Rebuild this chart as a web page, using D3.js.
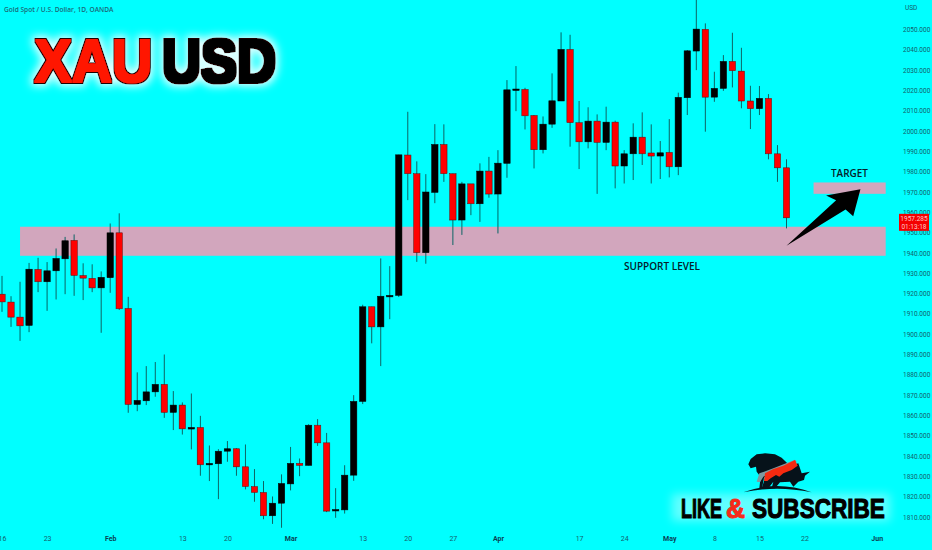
<!DOCTYPE html>
<html><head><meta charset="utf-8">
<script src="https://cdn.jsdelivr.net/npm/d3@7/dist/d3.min.js"></script>
<style>html,body{margin:0;padding:0;background:#00ffff;overflow:hidden}svg{display:block}</style>
</head><body><svg id="c" width="932" height="550"></svg>
<script>
const opens=[1919.7,1915.8,1908.4,1904.3,1931.9,1925.8,1931.2,1937.1,1946.2,1928.9,1927.5,1922.8,1927.8,1949.9,1912.7,1865.4,1867.2,1871.6,1875.3,1861.5,1865.1,1853.3,1854.1,1835.7,1836.2,1842.4,1843.6,1834.7,1825.0,1822.1,1810.6,1816.8,1826.3,1836.4,1835.4,1855.2,1846.5,1813.0,1813.5,1830.6,1866.9,1913.5,1903.6,1918.4,1919.1,1988.2,1979.0,1940.1,1969.8,1993.4,1979.0,1956.2,1974.0,1964.2,1980.3,1969.0,1984.1,2020.2,2020.5,2007.7,1990.8,2003.4,2014.8,2040.2,2004.1,1994.7,2004.9,1994.4,2004.4,1982.8,1988.8,1997.0,1989.2,1987.7,1989.5,1982.4,2016.4,2039.4,2050.1,2016.7,2021.0,2034.3,2029.5,2014.8,2011.0,2016.1,1988.8,1981.9];
const highs=[1928.7,1918.7,1925.8,1935.1,1937.6,1935.5,1942.2,1947.9,1949.1,1934.9,1934.4,1930.9,1954.5,1959.5,1918.4,1881.2,1884.3,1886.3,1890.0,1872.0,1866.4,1870.8,1859.8,1845.2,1843.4,1847.4,1843.9,1845.7,1833.6,1827.7,1820.1,1831.0,1844.5,1838.8,1855.7,1858.2,1851.4,1824.2,1835.5,1870.0,1914.5,1913.5,1937.3,1933.5,1988.3,2009.5,1985.1,1978.8,2003.4,2003.3,1979.0,1975.0,1974.0,1984.1,1987.3,1990.6,2025.1,2032.0,2021.3,2007.9,2007.2,2028.4,2048.6,2047.4,2014.8,2011.7,2008.2,2012.0,2005.1,1990.6,2003.8,2009.2,2003.3,1995.1,2005.9,2018.9,2039.9,2067.0,2053.0,2029.2,2037.4,2048.4,2041.0,2022.3,2022.2,2018.2,1993.1,1986.1];
const lows=[1911.0,1903.6,1896.7,1901.0,1920.7,1911.5,1917.1,1919.7,1918.9,1916.8,1920.7,1900.7,1920.4,1911.9,1861.3,1862.1,1865.1,1869.2,1858.8,1852.8,1850.6,1843.3,1830.3,1827.7,1818.8,1837.2,1830.3,1823.6,1817.5,1808.9,1806.6,1804.7,1823.1,1830.1,1835.4,1845.0,1812.4,1809.6,1811.7,1827.8,1865.6,1895.5,1884.3,1907.4,1918.3,1966.0,1935.6,1934.7,1964.5,1975.0,1943.9,1948.9,1958.6,1955.3,1967.2,1949.6,1977.0,2009.8,2000.8,1981.6,1989.0,2001.6,2014.8,1992.3,1981.3,1991.5,1969.1,1990.6,1971.8,1974.2,1975.9,1983.3,1974.2,1976.4,1977.2,1978.3,2007.9,2030.0,1999.7,2014.4,2019.8,2021.5,2011.2,2001.0,2007.9,1986.1,1975.0,1952.1];
const closes=[1915.9,1908.4,1904.1,1932.0,1925.8,1931.2,1937.3,1946.0,1928.9,1927.6,1922.8,1928.0,1949.9,1912.5,1865.4,1867.4,1871.6,1875.3,1861.5,1865.1,1853.4,1854.1,1835.7,1836.4,1842.4,1843.6,1834.7,1825.0,1822.1,1810.6,1816.8,1826.5,1836.4,1835.4,1855.2,1846.5,1812.9,1813.7,1830.6,1866.9,1913.5,1903.6,1918.7,1919.1,1988.3,1979.0,1940.1,1970.0,1993.4,1979.0,1956.2,1974.0,1964.2,1980.3,1969.0,1984.2,2020.3,2020.7,2007.5,1990.8,2003.4,2014.9,2040.2,2004.1,1994.7,2004.9,1994.4,2004.4,1982.8,1988.8,1997.0,1988.8,1987.7,1989.3,1982.4,2016.6,2039.5,2050.2,2016.7,2021.0,2034.3,2029.7,2014.8,2011.0,2016.1,1988.8,1981.9,1957.285];
const dateTickIndex=[0,5,12,20,25,32,40,45,50,55,64,69,74,79,84,89,97];
const dateTickLabels=["16","23","Feb","13","20","Mar","13","20","27","Apr","17","24","May","8","15","22","Jun"];
const monthLabels=["Feb","Mar","Apr","May","Jun"];
const priceTicks=d3.range(1810,2051,10);
const zones=[{i0:2,i1:98,top:1952.9,bottom:1938.6},{i0:90,i1:98,top:1974.7,bottom:1969.1}];
const arrowTail={i:87,p:1943.6}, arrowTip={i:95.2,p:1971.3};
const lastPrice=1957.285, countdown="01:13:18";

const svg=d3.select("#c");
const x=d3.scaleLinear().domain([0,87]).range([2,786.5]);
const y=d3.scaleLinear().domain([1810,2050]).range([517,29.5]);
const defs=svg.append("defs");
const f=defs.append("filter").attr("id","glow").attr("x","-20%").attr("y","-40%").attr("width","140%").attr("height","180%");
f.append("feGaussianBlur").attr("stdDeviation",5);
const tg=defs.append("filter").attr("id","textglow").attr("x","-15%").attr("y","-30%").attr("width","130%").attr("height","160%");
tg.append("feMorphology").attr("in","SourceAlpha").attr("operator","dilate").attr("radius",2).attr("result","d");
tg.append("feGaussianBlur").attr("in","d").attr("stdDeviation",4).attr("result","b");
tg.append("feFlood").attr("flood-color","#e8ffff").attr("result","c");
tg.append("feComposite").attr("in","c").attr("in2","b").attr("operator","in").attr("result","g");
const tm=tg.append("feMerge");tm.append("feMergeNode").attr("in","g");tm.append("feMergeNode").attr("in","SourceGraphic");
// fattens a word and lays a thin dark outline round it
function heavy(id,r,col){
  const h=defs.append("filter").attr("id",id).attr("x","-10%").attr("y","-20%").attr("width","120%").attr("height","140%");
  h.append("feMorphology").attr("in","SourceAlpha").attr("operator","dilate").attr("radius",r+1).attr("result","o");
  h.append("feFlood").attr("flood-color","#1a0505").attr("result","k");
  h.append("feComposite").attr("in","k").attr("in2","o").attr("operator","in").attr("result","outline");
  h.append("feMorphology").attr("in","SourceGraphic").attr("operator","dilate").attr("radius",r).attr("result","fat");
  const m=h.append("feMerge");m.append("feMergeNode").attr("in","outline");m.append("feMergeNode").attr("in","fat");
}
heavy("heavy",1.1);
const blur2=defs.append("filter").attr("id","soft").attr("x","-5%").attr("y","-5%").attr("width","110%").attr("height","110%");
blur2.append("feGaussianBlur").attr("stdDeviation",0.35);

svg.append("rect").attr("width",932).attr("height",550).attr("fill","#00ffff");
svg.append("g").selectAll("rect").data(zones).join("rect")
  .attr("x",d=>x(d.i0)).attr("width",d=>x(d.i1)-x(d.i0))
  .attr("y",d=>y(d.top)).attr("height",d=>y(d.bottom)-y(d.top)).attr("fill","#d2a6bd");

const candles=d3.range(opens.length).map(i=>({i,o:opens[i],h:highs[i],l:lows[i],c:closes[i]}));
const g=svg.append("g").attr("filter","url(#soft)");
g.selectAll("line").data(candles).join("line")
  .attr("x1",d=>x(d.i)).attr("x2",d=>x(d.i)).attr("y1",d=>y(d.h)).attr("y2",d=>y(d.l))
  .attr("stroke","#0c6464").attr("stroke-width",1);
g.selectAll("rect").data(candles).join("rect")
  .attr("x",d=>x(d.i)-3.2).attr("width",6.4)
  .attr("y",d=>y(Math.max(d.o,d.c))).attr("height",d=>Math.max(1.5,Math.abs(y(d.o)-y(d.c))))
  .attr("fill",d=>d.c>=d.o?"#000":"#ff0000").attr("stroke",d=>d.c>=d.o?"#000":"#5a1010").attr("stroke-width",0.5);

// axes
const axisCol="#14606c";
const ya=svg.append("g").attr("transform","translate(903,0)").call(d3.axisRight(y).tickValues(priceTicks).tickSize(0).tickPadding(0).tickFormat(d3.format(".3f")));
ya.select(".domain").remove();
ya.selectAll("text").attr("fill",axisCol).attr("font-family","Roboto, sans-serif").attr("font-size",6.5);
const xa=svg.append("g").attr("transform","translate(0,536)").call(d3.axisBottom(x).tickValues(dateTickIndex).tickSize(0).tickPadding(0).tickFormat((d,i)=>dateTickLabels[i]));
xa.select(".domain").remove();
xa.selectAll("text").attr("fill",(d,i)=>monthLabels.includes(dateTickLabels[i])?"#0b3f55":axisCol)
  .attr("font-weight",(d,i)=>monthLabels.includes(dateTickLabels[i])?"700":"400")
  .attr("font-family","Roboto, sans-serif").attr("font-size",7).attr("dy","0.7em");

svg.append("text").attr("x",905).attr("y",9.5).text("USD").attr("fill",axisCol).attr("font-family","Roboto, sans-serif").attr("font-size",6.5);
svg.append("text").attr("x",4).attr("y",12).text("Gold Spot / U.S. Dollar, 1D, OANDA").attr("fill","#1b6a78").attr("font-family","'Open Sans', sans-serif").attr("font-weight",600).attr("font-size",6.6);

// last price tag
svg.append("rect").attr("x",899).attr("y",y(lastPrice)-4).attr("width",30).attr("height",17).attr("fill","#f40000");
svg.append("text").attr("x",914).attr("y",y(lastPrice)+3).attr("text-anchor","middle").text(lastPrice.toFixed(3)).attr("fill","#ffc8c8").attr("font-family","Roboto, sans-serif").attr("font-size",6.5);
svg.append("text").attr("x",914).attr("y",y(lastPrice)+11).attr("text-anchor","middle").text(countdown).attr("fill","#ffc8c8").attr("font-family","Roboto, sans-serif").attr("font-size",6.5);

// word fitted to a width by scaling, so its box is its real extent
function fitted(parent,d,size,weight,family){
  const t=parent.append("text").text(d.t).attr("font-family",family).attr("font-weight",weight).attr("font-size",size).attr("fill",d.fill);
  const w=t.node().getComputedTextLength();
  t.attr("transform",`translate(${d.x0},${d.base}) scale(${d.w/w},1)`);
  return t;
}
const labelFont="'Open Sans', sans-serif";
fitted(svg,{t:"TARGET",x0:831,base:177,w:37,fill:"#06202a"},10.5,600,labelFont);
fitted(svg,{t:"SUPPORT LEVEL",x0:624,base:269.5,w:76,fill:"#06202a"},10.5,600,labelFont);

// arrow derived from its two anchors
(function(){
  const ax=x(arrowTail.i),ay=y(arrowTail.p),bx=x(arrowTip.i),by=y(arrowTip.p);
  const L=Math.hypot(bx-ax,by-ay),ux=(bx-ax)/L,uy=(by-ay)/L,nx=-uy,ny=ux;
  const at=(t,s)=>[ax+ux*t+nx*s,ay+uy*t+ny*s];
  const pts=[[ax,ay],at(L-26,-6),at(L-31,-16),[bx,by],at(L-22,17),at(L-24,7)];
  svg.append("path").attr("d",d3.line()(pts)+"Z").attr("fill","#000");
})();

// title
const titleFont="'Liberation Sans', Arial, sans-serif";
const title=svg.append("g").attr("filter","url(#textglow)");
[{t:"XAU",x0:34.5,base:82,w:118,fill:"#ff1500"},{t:"USD",x0:162,base:82,w:114,fill:"#000"}].forEach(d=>{
  fitted(title,d,61,700,titleFont).attr("filter","url(#heavy)");
});

// like & subscribe
const lg=svg.append("g");
lg.append("rect").attr("x",672).attr("y",494).attr("width",218).attr("height",27).attr("fill","#d8ffff").attr("opacity",.45).attr("filter","url(#glow)");
[{t:"LIKE",x0:681,base:517.5,w:41,fill:"#000"},{t:"&",x0:726,base:517.5,w:19,fill:"#f52a1a"},{t:"SUBSCRIBE",x0:752,base:517.5,w:133,fill:"#000"}].forEach(d=>{
  fitted(lg,d,27,700,titleFont).attr("stroke",d.fill).attr("stroke-width",1.1);
});

const logo=svg.append("g").attr("transform","translate(730,445) scale(0.3333)");
logo.append("path").attr("d","M55 58L62 42L80 28L105 25L135 28L155 38L172 55L120 82L102 98L96 130L88 130L92 96L80 80L78 65L62 70Z").attr("fill","#06121a");
logo.append("path").attr("d","M120 80L205 55L215 85L240 80L225 92L222 105L205 110L190 125L180 110L150 112L135 130L125 130L130 110L115 130L95 130L105 100Z").attr("fill","#06121a");
logo.append("path").attr("d","M80 110L88 85L130 70L195 44L200 50L160 72L120 85L100 95L90 112Z").attr("fill","#7d9aa0");
logo.append("path").attr("d","M102 108L105 85L130 72L160 62L195 45L203 62L185 75L160 85L148 95L138 90L122 100L112 108Z").attr("fill","#f42a10");
logo.append("path").attr("d","M40 142Q140 104 245 142Q140 120 40 142Z").attr("fill","#06121a");
</script></body></html>
